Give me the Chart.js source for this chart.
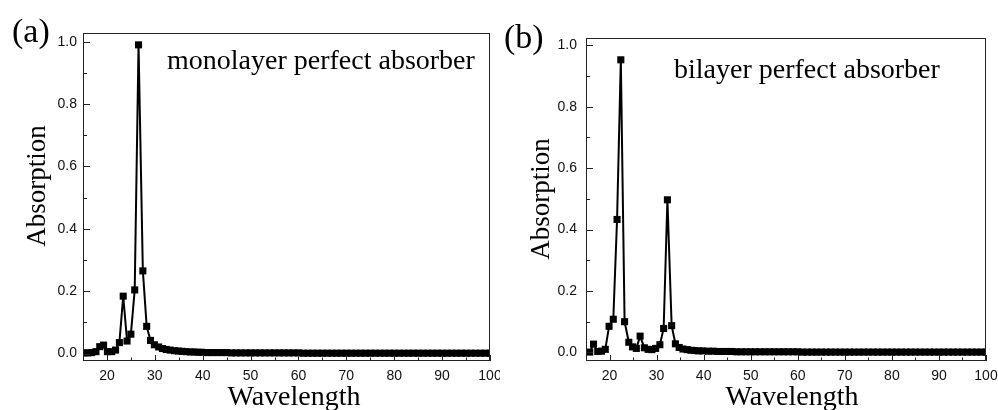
<!DOCTYPE html>
<html>
<head>
<meta charset="utf-8">
<script src="https://cdn.jsdelivr.net/npm/chart.js@4.4.1/dist/chart.umd.min.js"></script>
<style>
  html, body { margin: 0; padding: 0; background: #fff; }
  body { width: 998px; height: 410px; position: relative; overflow: hidden; }
  canvas { position: absolute; top: 0; }
  #chartA { left: 0; }
  #chartB { left: 500px; }
</style>
</head>
<body>
<canvas id="chartA" width="500" height="410"></canvas>
<canvas id="chartB" width="498" height="410"></canvas>
<script>
// panel (a): monolayer
const wavelengthA = [15.2, 16.0, 16.8, 17.7, 18.5, 19.3, 20.1, 21.0, 21.8, 22.6, 23.4, 24.2, 25.0, 25.8, 26.6, 27.5, 28.3, 29.1, 29.9, 30.8,
  31.6, 32.4, 33.2, 34.1, 34.9, 35.7, 36.5, 37.4, 38.2, 39.0, 39.8,
  41, 42, 43, 44, 45, 46, 47, 48, 49, 50, 51, 52, 53, 54, 55, 56, 57, 58, 59, 60,
  61, 62, 63, 64, 65, 66, 67, 68, 69, 70, 71, 72, 73, 74, 75, 76, 77, 78, 79, 80,
  81, 82, 83, 84, 85, 86, 87, 88, 89, 90, 91, 92, 93, 94, 95, 96, 97, 98, 99, 100];
const absorptionA = [0.002, 0.002, 0.003, 0.006, 0.022, 0.027, 0.006, 0.006, 0.011, 0.035, 0.184, 0.040, 0.062, 0.204, 0.990, 0.265, 0.087, 0.042, 0.028, 0.021,
  0.016, 0.013, 0.011, 0.009, 0.008, 0.007, 0.006, 0.005, 0.005, 0.004, 0.004,
  0.003, 0.003, 0.003, 0.003, 0.003, 0.002, 0.002, 0.002, 0.002, 0.002, 0.002, 0.002, 0.002, 0.002, 0.002, 0.002, 0.002, 0.002, 0.002, 0.002,
  0.001, 0.001, 0.001, 0.001, 0.001, 0.001, 0.001, 0.001, 0.001, 0.001, 0.001, 0.001, 0.001, 0.001, 0.001, 0.001, 0.001, 0.001, 0.001, 0.001,
  0.001, 0.001, 0.001, 0.001, 0.001, 0.001, 0.001, 0.001, 0.001, 0.001, 0.001, 0.001, 0.001, 0.001, 0.001, 0.001, 0.001, 0.001, 0.001, 0.001];

// panel (b): bilayer
const wavelengthB = [15.8, 16.6, 17.5, 18.3, 19.1, 19.9, 20.8, 21.6, 22.4, 23.2, 24.1, 24.9, 25.7, 26.5, 27.4, 28.2, 29.0, 29.8, 30.7, 31.5,
  32.3, 33.2, 34.0, 34.8, 35.6, 36.5, 37.3, 38.1, 38.9, 39.8,
  41, 42, 43, 44, 45, 46, 47, 48, 49, 50, 51, 52, 53, 54, 55, 56, 57, 58, 59, 60,
  61, 62, 63, 64, 65, 66, 67, 68, 69, 70, 71, 72, 73, 74, 75, 76, 77, 78, 79, 80,
  81, 82, 83, 84, 85, 86, 87, 88, 89, 90, 91, 92, 93, 94, 95, 96, 97, 98, 99, 100];
const absorptionB = [0.001, 0.027, 0.003, 0.004, 0.010, 0.085, 0.108, 0.433, 0.953, 0.100, 0.033, 0.018, 0.013, 0.053, 0.015, 0.010, 0.009, 0.013, 0.025, 0.078,
  0.497, 0.087, 0.028, 0.016, 0.011, 0.009, 0.007, 0.006, 0.005, 0.005,
  0.004, 0.004, 0.003, 0.003, 0.003, 0.003, 0.002, 0.002, 0.002, 0.002, 0.002, 0.002, 0.002, 0.002, 0.002, 0.002, 0.002, 0.002, 0.002, 0.002,
  0.001, 0.001, 0.001, 0.001, 0.001, 0.001, 0.001, 0.001, 0.001, 0.001, 0.001, 0.001, 0.001, 0.001, 0.001, 0.001, 0.001, 0.001, 0.001, 0.001,
  0.001, 0.001, 0.001, 0.001, 0.001, 0.001, 0.001, 0.001, 0.001, 0.001, 0.001, 0.001, 0.001, 0.001, 0.001, 0.001, 0.001, 0.001, 0.001, 0.001];

const xMajorTicks = [20, 30, 40, 50, 60, 70, 80, 90, 100];
const xMinorTicks = [25, 35, 45, 55, 65, 75, 85, 95];
const yMajorTicks = [0, 0.2, 0.4, 0.6, 0.8, 1.0];
const yMinorTicks = [0.1, 0.3, 0.5, 0.7, 0.9];

const SERIF = '"Liberation Serif", "Times New Roman", serif';
const SANS = '"Liberation Sans", Arial, sans-serif';

// frame, inward ticks and the serif texts
const panelDecor = {
  id: 'panelDecor',
  afterDraw(chart, args, opts) {
    const { ctx, chartArea: a, scales: { x, y } } = chart;
    ctx.save();
    ctx.strokeStyle = '#222';
    ctx.lineWidth = 1;
    ctx.strokeRect(a.left + 0.5, a.top + 0.5, a.width - 1, a.height - 1);

    ctx.beginPath();
    xMajorTicks.forEach(v => { const p = Math.round(x.getPixelForValue(v)) + 0.5; ctx.moveTo(p, a.bottom); ctx.lineTo(p, a.bottom - 6); });
    xMinorTicks.forEach(v => { const p = Math.round(x.getPixelForValue(v)) + 0.5; ctx.moveTo(p, a.bottom); ctx.lineTo(p, a.bottom - 3.5); });
    yMajorTicks.forEach(v => { const p = Math.round(y.getPixelForValue(v)) + 0.5; ctx.moveTo(a.left, p); ctx.lineTo(a.left + 7, p); });
    yMinorTicks.forEach(v => { const p = Math.round(y.getPixelForValue(v)) + 0.5; ctx.moveTo(a.left, p); ctx.lineTo(a.left + 4, p); });
    ctx.stroke();

    ctx.fillStyle = '#000';
    ctx.textBaseline = 'alphabetic';
    ctx.textAlign = 'left';
    ctx.font = '34px ' + SERIF;
    ctx.fillText(opts.tag, opts.tagX, opts.tagY);
    ctx.font = '28px ' + SERIF;
    ctx.fillText(opts.note, opts.noteX, opts.noteY);

    ctx.textAlign = 'center';
    ctx.font = '28px ' + SERIF;
    ctx.fillText('Wavelength', opts.xTitleX, 405);

    ctx.save();
    ctx.translate(opts.yTitleX, opts.yTitleY);
    ctx.rotate(-Math.PI / 2);
    ctx.textBaseline = 'middle';
    ctx.font = '27px ' + SERIF;
    ctx.fillText('Absorption', 0, 0);
    ctx.restore();

    ctx.restore();
  }
};

function makeChart(id, xs, ys, box, decor) {
  const ctx = document.getElementById(id).getContext('2d');
  return new Chart(ctx, {
    type: 'line',
    data: {
      datasets: [{
        data: xs.map((w, i) => ({ x: w, y: ys[i] })),
        borderColor: '#000',
        backgroundColor: '#000',
        borderWidth: 2,
        pointStyle: 'rect',
        pointRadius: 5,
        pointBorderWidth: 0,
        tension: 0
      }]
    },
    options: {
      responsive: false,
      animation: false,
      layout: { padding: { top: box.top, right: box.right, left: 0, bottom: 0 } },
      plugins: { legend: { display: false }, tooltip: { enabled: false }, panelDecor: decor },
      scales: {
        x: {
          type: 'linear',
          min: 15, max: 100,
          border: { display: false },
          grid: { display: false, drawTicks: false },
          ticks: { stepSize: 10, includeBounds: false, padding: 7, color: '#111', maxRotation: 0, font: { family: SANS, size: 14 } },
          afterFit: s => { s.height = 410 - box.bottom; s.paddingLeft = 0; s.paddingRight = 0; }
        },
        y: {
          min: box.yMin, max: box.yMax,
          border: { display: false },
          grid: { display: false, drawTicks: false },
          ticks: { stepSize: 0.2, includeBounds: false, padding: box.labelGap, color: '#111', font: { family: SANS, size: 14 },
                   callback: v => v.toFixed(1) },
          afterFit: s => { s.width = box.left; }
        }
      }
    },
    plugins: [panelDecor]
  });
}

makeChart('chartA', wavelengthA, absorptionA,
  { left: 83, top: 33, right: 10, bottom: 361, yMin: -0.024, yMax: 1.028, labelGap: 6 },
  { tag: '(a)', tagX: 12, tagY: 42, note: 'monolayer perfect absorber', noteX: 167, noteY: 69,
    xTitleX: 294, yTitleX: 38, yTitleY: 186 });

makeChart('chartB', wavelengthB, absorptionB,
  { left: 86, top: 38, right: 12, bottom: 361, yMin: -0.028, yMax: 1.024, labelGap: 9 },
  { tag: '(b)', tagX: 4, tagY: 48, note: 'bilayer perfect absorber', noteX: 174, noteY: 78,
    xTitleX: 292, yTitleX: 42, yTitleY: 199 });
</script>
</body>
</html>
